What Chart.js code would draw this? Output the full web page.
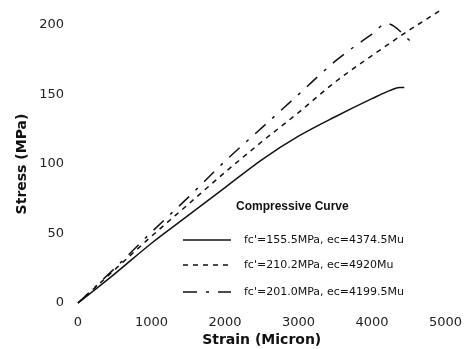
<!DOCTYPE html>
<html>
<head>
<meta charset="utf-8">
<script src="https://cdn.jsdelivr.net/npm/chart.js@4/dist/chart.umd.min.js"></script>
<style>
  body { margin: 0; background: #fff; }
  #wrap { width: 466px; height: 349px; }
</style>
</head>
<body>
<div id="wrap"><canvas id="chartCurva"></canvas></div>
<script>
// Datos (strain en micron, stress en MPa)
const strainA = [0, 500, 1000, 1500, 2000, 2500, 3000, 3500, 4000, 4250, 4374.5, 4440];
const stressA = [0, 21, 43, 63, 83, 103, 120, 134, 147, 153, 155, 155];

const strainB = [0, 500, 1000, 1500, 2000, 2500, 3000, 3500, 4000, 4500, 4920];
const stressB = [0, 24, 48, 71, 94, 116, 137, 159, 178, 196, 210.2];

const strainC = [0, 500, 1000, 1500, 2000, 2500, 3000, 3500, 4000, 4199.5, 4554];
const stressC = [0, 25, 51, 76, 102, 126, 150, 174, 193.5, 201, 187];

const ticksX = [0, 1000, 2000, 3000, 4000, 5000];
const ticksY = [0, 50, 100, 150, 200];

const etiquetas = [
    "fc'=155.5MPa, ec=4374.5Mu",
    "fc'=210.2MPa, ec=4920Mu",
    "fc'=201.0MPa, ec=4199.5Mu"
];
const tituloLeyenda = 'Compressive Curve';

function puntos(xs, ys) {
    return xs.map((x, i) => ({ x: x, y: ys[i] }));
}

const dashes = [[], [5, 5], [14, 9, 3, 9]];

// leyenda dentro del area del grafico
const leyendaPlugin = {
    id: 'leyenda',
    afterDraw(chart) {
        const ctx = chart.ctx;
        ctx.save();
        ctx.fillStyle = '#111';
        ctx.textBaseline = 'middle';
        ctx.font = 'bold 12px "Liberation Sans", Arial, sans-serif';
        ctx.fillText(tituloLeyenda, 236, 207);
        const filas = [240, 265, 292];
        ctx.font = '11px "DejaVu Sans", sans-serif';
        ctx.strokeStyle = '#111';
        ctx.lineWidth = 1.5;
        filas.forEach((y, i) => {
            ctx.setLineDash(dashes[i]);
            ctx.beginPath();
            ctx.moveTo(183, y);
            ctx.lineTo(231, y);
            ctx.stroke();
            ctx.setLineDash([]);
            ctx.fillText(etiquetas[i], 244, y);
        });
        ctx.restore();
    }
};

const fuenteTicks = { family: '"DejaVu Sans", sans-serif', size: 13 };
const fuenteTitulo = { family: '"DejaVu Sans", sans-serif', size: 14, weight: 'bold' };

new Chart(
    document.getElementById('chartCurva'),
    {
        type: 'scatter',
        data: {
            datasets: [
                { label: etiquetas[0], data: puntos(strainA, stressA), borderDash: dashes[0] },
                { label: etiquetas[1], data: puntos(strainB, stressB), borderDash: dashes[1] },
                { label: etiquetas[2], data: puntos(strainC, stressC), borderDash: dashes[2] }
            ].map(d => Object.assign(d, {
                showLine: true,
                borderColor: '#111',
                borderWidth: 1.5,
                pointRadius: 0,
                cubicInterpolationMode: 'monotone',
                clip: false
            }))
        },
        options: {
            responsive: true,
            maintainAspectRatio: false,
            animation: false,
            layout: { padding: { top: 25, right: 18, left: 0, bottom: 0 } },
            plugins: {
                legend: { display: false },
                tooltip: { enabled: false }
            },
            scales: {
                x: {
                    type: 'linear',
                    min: 0,
                    max: 5000,
                    grid: { display: false },
                    border: { display: false },
                    afterBuildTicks(scale) { scale.ticks = ticksX.map(v => ({ value: v })); },
                    ticks: {
                        color: '#222',
                        padding: 4,
                        font: fuenteTicks,
                        callback: v => String(v)
                    },
                    title: {
                        display: true,
                        text: 'Strain (Micron)',
                        color: '#111',
                        padding: { top: 0, bottom: 0 },
                        font: fuenteTitulo
                    },
                    afterFit(scale) { scale.height = 46; }
                },
                y: {
                    min: 0,
                    max: 200,
                    grid: { display: false },
                    border: { display: false },
                    afterBuildTicks(scale) { scale.ticks = ticksY.map(v => ({ value: v })); },
                    ticks: {
                        color: '#222',
                        padding: 6,
                        font: fuenteTicks,
                        callback: v => String(v)
                    },
                    title: {
                        display: true,
                        text: 'Stress (MPa)',
                        color: '#111',
                        padding: { top: 14, bottom: 4 },
                        font: fuenteTitulo
                    },
                    afterFit(scale) { scale.width = 78; }
                }
            }
        },
        plugins: [leyendaPlugin]
    }
);
</script>
</body>
</html>
